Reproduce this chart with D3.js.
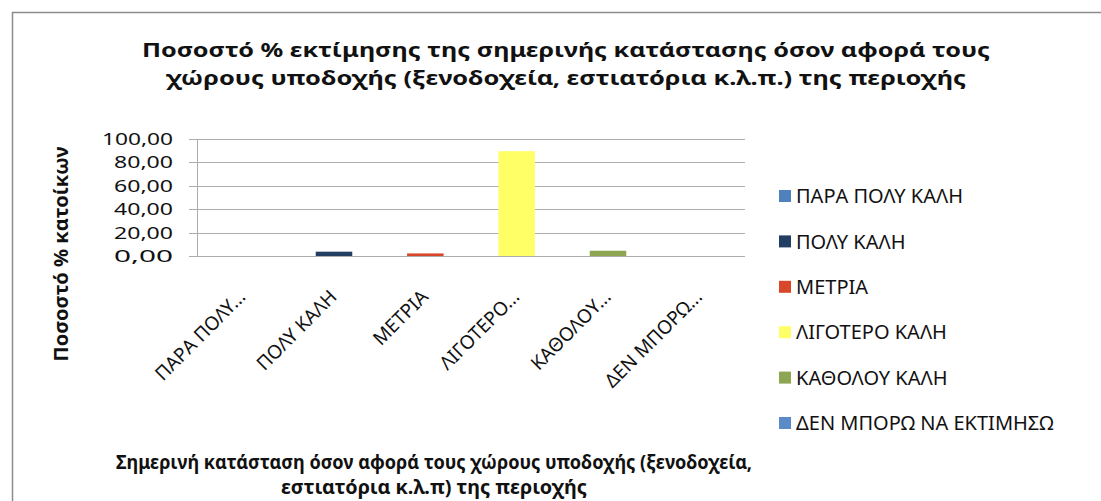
<!DOCTYPE html>
<html>
<head>
<meta charset="utf-8">
<script src="https://cdn.jsdelivr.net/npm/d3@7"></script>
<style>
  body { margin: 0; background: #fff; }
  text { font-family: "Noto Sans", "Open Sans", sans-serif; fill: #111; }
</style>
</head>
<body>
<div id="chart"></div>
<script>
// chart data
const categories = ['ΠΑΡΑ ΠΟΛΥ ΚΑΛΗ', 'ΠΟΛΥ ΚΑΛΗ', 'ΜΕΤΡΙΑ', 'ΛΙΓΟΤΕΡΟ ΚΑΛΗ', 'ΚΑΘΟΛΟΥ ΚΑΛΗ', 'ΔΕΝ ΜΠΟΡΩ ΝΑ ΕΚΤΙΜΗΣΩ'];
const shortLabels = ['ΠΑΡΑ ΠΟΛΥ...', 'ΠΟΛΥ ΚΑΛΗ', 'ΜΕΤΡΙΑ', 'ΛΙΓΟΤΕΡΟ...', 'ΚΑΘΟΛΟΥ...', 'ΔΕΝ ΜΠΟΡΩ...'];
const values = [0, 3.7, 2.2, 89.6, 4.5, 0];
const colors = ['#4f81bd', '#233e63', '#d9472b', '#ffff66', '#8ea552', '#5a8bc8'];
const yTicks = [0, 20, 40, 60, 80, 100];
const titleLines = [
  'Ποσοστό % εκτίμησης της σημερινής κατάστασης όσον αφορά τους',
  'χώρους υποδοχής (ξενοδοχεία, εστιατόρια κ.λ.π.) της περιοχής'
];
const xTitleLines = [
  'Σημερινή κατάσταση  όσον αφορά τους χώρους υποδοχής (ξενοδοχεία,',
  'εστιατόρια κ.λ.π) της περιοχής'
];
const yTitle = 'Ποσοστό % κατοίκων';

const width = 1101;
const height = 501;
const plot = {left: 197, right: 745, top: 139, bottom: 256};

const svg = d3.select('#chart')
  .append('svg')
  .attr('width', width)
  .attr('height', height);

// outer frame (only top and left edges visible)
svg.append('rect')
  .attr('x', 12.5).attr('y', 12.5)
  .attr('width', 1200).attr('height', 600)
  .attr('fill', 'none')
  .attr('stroke', '#8c8c8c')
  .attr('stroke-width', 1.5);

// title
svg.selectAll('text.title')
  .data(titleLines).enter()
  .append('text')
  .attr('class', 'title')
  .attr('x', 566)
  .attr('y', (d, i) => 57 + i * 28)
  .attr('text-anchor', 'middle')
  .attr('textLength', (d, i) => i === 0 ? 848 : 800)
  .attr('lengthAdjust', 'spacingAndGlyphs')
  .style('font-size', '20px')
  .style('font-weight', 'bold')
  .text(d => d);

const x = d3.scaleBand()
  .domain(categories)
  .range([plot.left, plot.right])
  .paddingInner(0.6)
  .paddingOuter(0.3);

const y = d3.scaleLinear()
  .domain([0, 100])
  .range([plot.bottom, plot.top]);

// gridlines
svg.append('g')
  .selectAll('line')
  .data(yTicks).enter()
  .append('line')
  .attr('x1', plot.left - 8)
  .attr('x2', plot.right)
  .attr('y1', d => Math.round(y(d)) + 0.5)
  .attr('y2', d => Math.round(y(d)) + 0.5)
  .attr('stroke', '#acacac')
  .attr('stroke-width', 1);

// y axis line
svg.append('line')
  .attr('x1', plot.left + 0.5).attr('x2', plot.left + 0.5)
  .attr('y1', y(100)).attr('y2', y(0))
  .attr('stroke', '#acacac');

// y tick labels
svg.append('g')
  .selectAll('text')
  .data(yTicks).enter()
  .append('text')
  .attr('x', 173)
  .attr('y', d => y(d))
  .attr('dy', '0.35em')
  .attr('text-anchor', 'end')
  .attr('textLength', d => d === 100 ? 71 : 59)
  .attr('lengthAdjust', 'spacingAndGlyphs')
  .style('font-size', '17px')
  .text(d => d3.format('.2f')(d).replace('.', ','));

// bars
svg.append('g')
  .selectAll('rect')
  .data(values).enter()
  .append('rect')
  .attr('x', (d, i) => x(categories[i]))
  .attr('width', x.bandwidth())
  .attr('y', d => y(d))
  .attr('height', d => y(0) - y(d))
  .attr('fill', (d, i) => colors[i]);

// rotated category labels
svg.append('g')
  .selectAll('text')
  .data(shortLabels).enter()
  .append('text')
  .attr('transform', (d, i) => `translate(${x(categories[i]) + x.bandwidth() / 2 + 4},${298}) rotate(-45)`)
  .attr('text-anchor', 'end')
  .style('font-size', '19px')
  .text(d => d);

// y axis title
svg.append('text')
  .attr('transform', 'translate(68,254) rotate(-90)')
  .attr('text-anchor', 'middle')
  .attr('textLength', 215)
  .attr('lengthAdjust', 'spacingAndGlyphs')
  .style('font-size', '20px')
  .style('font-weight', 'bold')
  .text(yTitle);

// x axis title
svg.selectAll('text.xtitle')
  .data(xTitleLines).enter()
  .append('text')
  .attr('class', 'xtitle')
  .attr('x', 434)
  .attr('y', (d, i) => 469 + i * 25)
  .attr('text-anchor', 'middle')
  .attr('textLength', (d, i) => i === 0 ? 636 : 306)
  .attr('lengthAdjust', 'spacingAndGlyphs')
  .style('font-size', '19px')
  .style('font-weight', 'bold')
  .text(d => d);

// legend
const legend = svg.append('g')
  .selectAll('g')
  .data(categories).enter()
  .append('g')
  .attr('transform', (d, i) => `translate(779,${196 + i * 45.4})`);

legend.append('rect')
  .attr('x', 0).attr('y', -6)
  .attr('width', 12).attr('height', 12)
  .attr('fill', (d, i) => colors[i]);

legend.append('text')
  .attr('x', 17)
  .attr('dy', '0.36em')
  .style('font-size', '20px')
  .text(d => d);
</script>
</body>
</html>
